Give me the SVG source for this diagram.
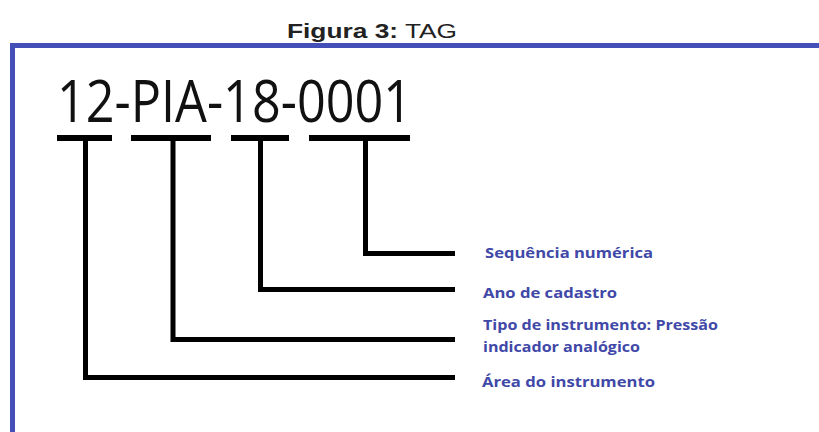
<svg xmlns="http://www.w3.org/2000/svg" width="819" height="432" viewBox="0 0 819 432">
<style>
.title{font-family:"Liberation Sans",Arial,sans-serif;font-size:21px;fill:#222}
.tag{font-family:"Open Sans","Noto Sans",sans-serif;font-size:58px;fill:#111}
.lbl{font-family:"Open Sans","Noto Sans",sans-serif;font-weight:bold;font-size:15px;fill:#4048a8}
.ln{fill:none;stroke:#000;stroke-width:5;stroke-linejoin:miter}
.bar{fill:none;stroke:#000;stroke-width:6}
</style>
<rect width="819" height="432" fill="#fff"/>
<path d="M12.5 432 V45.5 H819" fill="none" stroke="#4450b8" stroke-width="5"/>
<text class="title" x="287" y="38" textLength="170" lengthAdjust="spacingAndGlyphs"><tspan font-weight="bold">Figura 3:</tspan> TAG</text>
<g id="tag">
<text class="tag" x="57" y="122" textLength="355" lengthAdjust="spacingAndGlyphs">12-PIA-18-0001</text>
</g>
<g id="bars">
<path class="bar" d="M57 138 H112 M131 138 H211 M231 138 H289 M309 138 H410"/>
</g>
<g id="connectors">
<path class="ln" d="M85.5 138 V377.5 H455"/>
<path class="ln" d="M173 138 V339.5 H455"/>
<path class="ln" d="M260.5 138 V289.5 H455"/>
<path class="ln" d="M365.5 138 V253.5 H455"/>
</g>
<g id="n-seq"><text class="lbl" x="485" y="258" textLength="168" lengthAdjust="spacingAndGlyphs">Sequência numérica</text></g>
<g id="n-ano"><text class="lbl" x="483" y="298" textLength="134" lengthAdjust="spacingAndGlyphs">Ano de cadastro</text></g>
<g id="n-tipo">
<text class="lbl" x="483" y="330" textLength="235" lengthAdjust="spacingAndGlyphs">Tipo de instrumento: Pressão</text>
<text class="lbl" x="483" y="352" textLength="157" lengthAdjust="spacingAndGlyphs">indicador analógico</text>
</g>
<g id="n-area"><text class="lbl" x="482" y="387" textLength="173" lengthAdjust="spacingAndGlyphs">Área do instrumento</text></g>
</svg>
